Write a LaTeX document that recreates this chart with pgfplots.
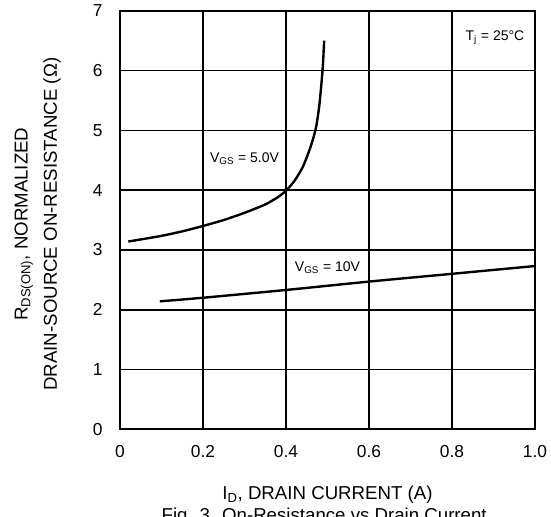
\documentclass[border=0pt]{standalone}
\usepackage{fontspec}
\setmainfont{Liberation Sans}
\usepackage{pgfplots}
\pgfplotsset{compat=1.18}

\begin{document}
\begin{tikzpicture}
\begin{axis}[
    scale only axis,
    width=311.25pt, height=313.95pt,
    xmin=0, xmax=1, ymin=0, ymax=7,
    xtick={0,0.2,0.4,0.6,0.8,1.0},
    xticklabels={0,0.2,0.4,0.6,0.8,1.0},
    ytick={0,1,2,3,4,5,6,7},
    major tick length=0pt,
    grid=major,
    grid style={black, line width=1.2pt},
    axis line style={black, line width=1.3pt},
    /pgf/number format/assume math mode=true,
    tick label style={font=\fontsize{13}{15}\selectfont},
    xticklabel style={anchor=north, inner sep=0pt, yshift=-11.8pt},
    yticklabel style={anchor=east, inner sep=0pt, xshift=-13pt},
    xlabel={I\textsubscript{D}, DRAIN CURRENT (A)},
    xlabel style={font=\fontsize{14}{16}\selectfont, anchor=base,
        at={([yshift=-53pt]axis description cs:0.5,0)}},
    ylabel={R\textsubscript{DS(ON)}, NORMALIZED\\DRAIN-SOURCE ON-RESISTANCE (Ω)},
    ylabel style={font=\fontsize{14}{22}\selectfont, align=center, rotate=0,
        anchor=south, inner sep=0pt,
        at={([xshift=-44.25pt]axis description cs:0,0.49)}},
    clip=false,
]
% VGS = 5.0 V
\addplot[black, line width=1.8pt, smooth, tension=0.4] coordinates {
    (0.02,3.14)(0.05,3.175)(0.10,3.235)(0.15,3.31)(0.20,3.40)
    (0.25,3.50)(0.30,3.62)(0.35,3.76)(0.38,3.88)(0.40,3.99)
    (0.42,4.15)(0.44,4.38)(0.455,4.64)(0.465,4.85)(0.473,5.07)
    (0.48,5.40)(0.485,5.75)(0.489,6.10)(0.492,6.50)
};
% VGS = 10 V
\addplot[black, line width=1.8pt, smooth] coordinates {
    (0.096,2.14)(0.2,2.20)(0.4,2.33)(0.6,2.47)(0.8,2.60)(1.0,2.73)
};

\node[anchor=base, font=\fontsize{10.5}{12}\selectfont] at (axis cs:0.30,4.46)
    {V\textsubscript{GS} = 5.0V};
\node[anchor=base, font=\fontsize{10.5}{12}\selectfont] at (axis cs:0.50,2.635)
    {V\textsubscript{GS} = 10V};
\node[anchor=base, font=\fontsize{10.5}{12}\selectfont] at (axis cs:0.9036,6.51)
    {T\textsubscript{j} = 25°C};
\node[anchor=base, font=\fontsize{14}{16}\selectfont] at (axis description cs:0.492,0)
    [yshift=-68.8pt] {Fig. 3. On-Resistance vs Drain Current};
\end{axis}
\pgfresetboundingbox
\path[use as bounding box] (-90pt,-65.03pt) rectangle (323.25pt,321.98pt);
\end{tikzpicture}
\end{document}
